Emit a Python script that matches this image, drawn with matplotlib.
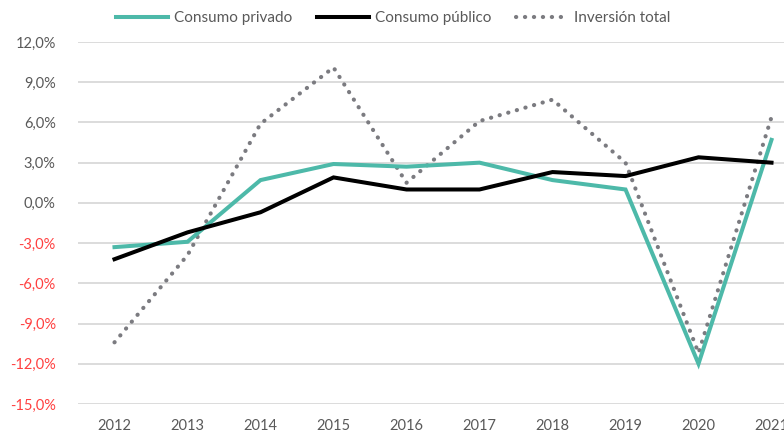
import matplotlib.pyplot as plt
from matplotlib.ticker import FuncFormatter

years = ['2012', '2013', '2014', '2015', '2016', '2017', '2018', '2019', '2020', '2021']
consumo_privado = [-3.3, -2.9, 1.7, 2.9, 2.7, 3.0, 1.7, 1.0, -12.0, 4.7]
consumo_publico = [-4.2, -2.2, -0.7, 1.9, 1.0, 1.0, 2.3, 2.0, 3.4, 3.0]
inversion_total = [-10.4, -3.9, 5.9, 10.1, 1.5, 6.1, 7.7, 3.0, -11.2, 6.4]
yticks = [-15, -12, -9, -6, -3, 0, 3, 6, 9, 12]

plt.rcParams['font.family'] = ['Lato', 'DejaVu Sans']

fig = plt.figure(figsize=(7.84, 4.34), dpi=100)
ax = fig.add_axes([78 / 784, 30 / 434, 730 / 784, 362 / 434])

x = range(len(years))
ax.plot(x, consumo_privado, color='#4DB9A9', lw=2.9, solid_joinstyle='miter',
        label='Consumo privado', zorder=3)
ax.plot(x, consumo_publico, color='#000000', lw=2.9, solid_joinstyle='miter',
        label='Consumo público', zorder=4)
ax.plot(x, inversion_total, color='#7B7B80', lw=3, linestyle=(0, (0.05, 2.1)),
        dash_capstyle='round', label='Inversión total', zorder=2)

ax.set_xlim(-0.5, 9.5)
ax.set_ylim(-15, 12)
ax.set_xticks(list(x))
ax.set_xticklabels(years)
ax.set_yticks(yticks)
ax.yaxis.set_major_formatter(FuncFormatter(lambda v, p: f'{v:.1f}%'.replace('.', ',')))
ax.grid(axis='y', color='#D9D9D9', lw=1.3)
ax.set_axisbelow(True)
for s in ax.spines.values():
    s.set_visible(False)
ax.tick_params(length=0, labelsize=10.5, labelcolor='#595959')
ax.tick_params(axis='x', pad=11)
ax.tick_params(axis='y', pad=16)
for lbl, v in zip(ax.get_yticklabels(), yticks):
    if v < 0:
        lbl.set_color('#FF4040')

fig.legend(loc='center', bbox_to_anchor=(393 / 784, 1 - 18 / 434), ncol=3, frameon=False,
           fontsize=11, handlelength=3.4, columnspacing=1.6, handletextpad=0.4,
           labelcolor='#595959')

fig.savefig('out.png', dpi=100)
